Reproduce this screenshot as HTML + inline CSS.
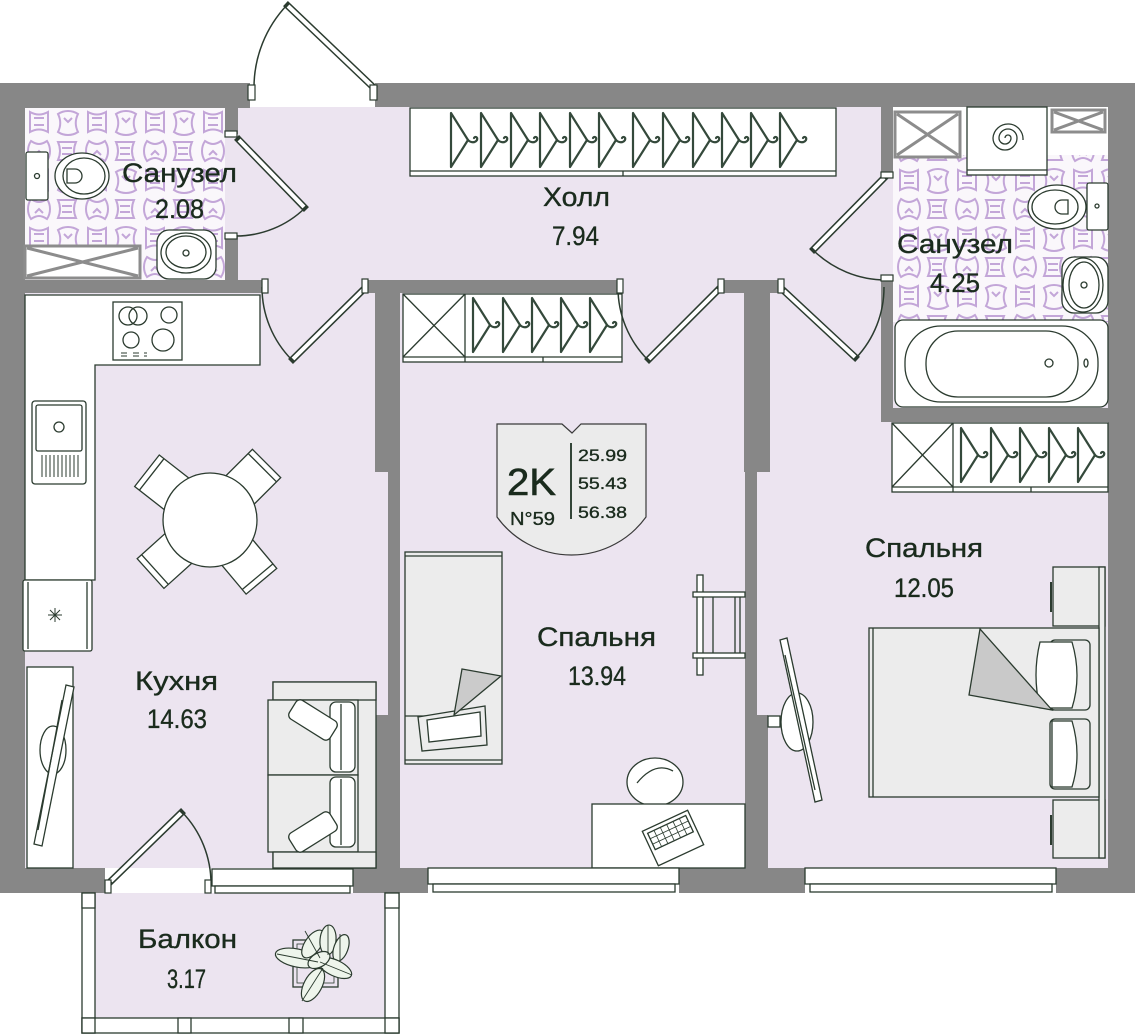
<!DOCTYPE html>
<html><head><meta charset="utf-8"><style>
html,body{margin:0;padding:0;background:#fff;}
svg{display:block;}
text{font-family:"Liberation Sans",sans-serif;fill:#1a2b1d;stroke:#1a2b1d;stroke-width:0.35;}
</style></head><body>
<svg width="1135" height="1034" viewBox="0 0 1135 1034" xmlns="http://www.w3.org/2000/svg">
<defs>
<pattern id="tile" width="58" height="58" patternUnits="userSpaceOnUse" x="25" y="108">
<rect width="58" height="58" fill="#faf7fb"/>
<g fill="none" stroke="#c3a6d8" stroke-width="2">
<path d="M5,4 q9,5 18,0 v20 q-9,-5 -18,0 z M9,10 h10 M9,17 h10"/>
<path transform="translate(29,0)" d="M4,6 c6,-4 14,-4 20,0 c-3,6 -3,12 0,18 c-6,4 -14,4 -20,0 c3,-6 3,-12 0,-18 z M10,10 l4,4 l4,-4"/>
<path transform="translate(0,29)" d="M6,4 c6,4 10,4 16,0 c4,6 4,14 0,20 c-6,-4 -10,-4 -16,0 c-4,-6 -4,-14 0,-20 z M10,18 l4,-4 l4,4"/>
<path transform="translate(29,29)" d="M4,5 h18 q-4,9 0,18 h-18 q4,-9 0,-18 z M8,11 h10 M8,17 h10"/>
</g>
</pattern>
<g id="hg" fill="none" stroke="#34493b" stroke-width="2.2" stroke-linejoin="round" stroke-linecap="round">
<path d="M1,0 V54 L18,27 Z"/>
<path d="M18,27 c3,3 7,3 9,0 c1,-3 -2,-4 -3,-2"/>
</g>
</defs>

<rect x="0" y="0" width="1135" height="1034" fill="#fff"/>

<!-- floors -->
<rect x="25" y="107" width="1083" height="761" fill="#ece4f0"/>
<rect x="95" y="893" width="290" height="125" fill="#ece4f0"/>
<rect x="25" y="108" width="200" height="172" fill="url(#tile)"/>
<rect x="893" y="107" width="215" height="215" fill="url(#tile)"/>
<rect x="893" y="107" width="215" height="48" fill="#fff"/>

<!-- walls -->
<g fill="#878787">
<rect x="0" y="83" width="250" height="25"/>
<rect x="375" y="83" width="760" height="24"/>
<rect x="0" y="83" width="25" height="810"/>
<rect x="1108" y="83" width="27" height="810"/>
<rect x="0" y="868" width="105" height="25"/>
<rect x="353" y="868" width="75" height="25"/>
<rect x="679" y="868" width="126" height="25"/>
<rect x="1056" y="868" width="79" height="25"/>
<rect x="225" y="107" width="13" height="27"/>
<rect x="225" y="235" width="13" height="45"/>
<rect x="0" y="280" width="263" height="13"/>
<rect x="365" y="280" width="257" height="13"/>
<rect x="718" y="280" width="65" height="13"/>
<rect x="375" y="280" width="25" height="192"/>
<rect x="388" y="472" width="12" height="243"/>
<rect x="375" y="715" width="25" height="153"/>
<rect x="744" y="280" width="26" height="192"/>
<rect x="745" y="472" width="12" height="243"/>
<rect x="745" y="715" width="23" height="153"/>
<rect x="881" y="107" width="12" height="68"/>
<rect x="881" y="277" width="12" height="145"/>
<rect x="881" y="408" width="227" height="14"/>
</g>

<g stroke="#2b3b2f" stroke-width="1.3">
<!-- left bathroom -->
<rect x="25" y="246" width="115" height="32" fill="#fff" stroke="#8c8c8c" stroke-width="3"/>
<path d="M27,248 L138,276 M138,248 L27,276" stroke="#8c8c8c" stroke-width="3"/>
<rect x="26" y="152" width="22" height="48" rx="2" fill="#fff"/>
<circle cx="37" cy="176" r="2.5" fill="#fff"/>
<ellipse cx="82" cy="176" rx="27" ry="23" fill="#fff"/>
<ellipse cx="84" cy="176" rx="21" ry="18" fill="#fff"/>
<path d="M67,169 h8 a7,7 0 0 1 0,14 h-8 z" fill="#fff"/>
<rect x="157" y="230" width="59" height="49" rx="12" fill="#fff"/>
<ellipse cx="186" cy="253" rx="25" ry="20" fill="#fff"/>
<ellipse cx="186" cy="252" rx="20" ry="16" fill="#fff"/>
<circle cx="186" cy="253" r="3" fill="#fff"/>

<!-- right bathroom -->
<rect x="895" y="112" width="65" height="45" fill="#fff" stroke="#8c8c8c" stroke-width="3"/>
<path d="M897,114 L958,155 M958,114 L897,155" stroke="#8c8c8c" stroke-width="3"/>
<rect x="1052" y="110" width="53" height="22" fill="#fff" stroke="#8c8c8c" stroke-width="3"/>
<path d="M1054,112 L1103,130 M1103,112 L1054,130" stroke="#8c8c8c" stroke-width="3"/>
<rect x="967" y="107" width="80" height="68" fill="#fff"/>
<line x1="967" y1="170" x2="1047" y2="170"/>
<path d="M1005,138 a3,3 0 0 1 6,0 a6,6 0 0 1 -12,0 a9,9 0 0 1 18,0 a12,12 0 0 1 -24,0 a15,15 0 0 1 30,2" fill="none"/>
<rect x="1087" y="183" width="21" height="47" rx="2" fill="#fff"/>
<circle cx="1097" cy="206" r="2" fill="#fff"/>
<ellipse cx="1057" cy="207" rx="29" ry="22" fill="#fff"/>
<ellipse cx="1055" cy="207" rx="23" ry="17" fill="#fff"/>
<path d="M1068,200 h-6 a7,7 0 0 0 0,14 h6 z" fill="#fff"/>
<rect x="1062" y="257" width="46" height="56" rx="12" fill="#fff"/>
<ellipse cx="1083" cy="285" rx="20" ry="27" fill="#fff"/>
<ellipse cx="1084" cy="285" rx="15" ry="23" fill="#fff"/>
<circle cx="1084" cy="285" r="3" fill="#fff"/>
<rect x="895" y="320" width="213" height="87" rx="8" fill="#fff"/>
<rect x="905" y="326" width="193" height="76" rx="36" fill="#fff"/>
<rect x="926" y="331" width="152" height="66" rx="32" fill="#fff"/>
<circle cx="1049" cy="363" r="4" fill="#fff"/>
<ellipse cx="1086" cy="363" rx="2" ry="4" fill="#fff"/>

<!-- hall wardrobe -->
<rect x="410" y="108" width="426" height="68" fill="#fff"/>
<line x1="410" y1="171" x2="836" y2="171"/>
<line x1="623" y1="171" x2="623" y2="176"/>
<!-- mid wardrobe -->
<rect x="403" y="294" width="219" height="68" fill="#fff"/>
<line x1="403" y1="357" x2="622" y2="357"/>
<line x1="465" y1="294" x2="465" y2="362"/>
<path d="M403,294 L465,357 M465,294 L403,357"/>
<line x1="543" y1="357" x2="543" y2="362"/>
<!-- right wardrobe -->
<rect x="892" y="423" width="216" height="69" fill="#fff"/>
<line x1="892" y1="487" x2="1108" y2="487"/>
<line x1="953" y1="423" x2="953" y2="492"/>
<path d="M892,423 L953,487 M953,423 L892,487"/>
<line x1="1031" y1="487" x2="1031" y2="492"/>

<!-- kitchen -->
<path d="M25,295 H260 V365 H95 V580 H25 Z" fill="#fff"/>
<rect x="113" y="302" width="69" height="58" fill="#fff"/>
<circle cx="128" cy="316" r="9" fill="none"/>
<circle cx="138" cy="316" r="9" fill="none"/>
<circle cx="169" cy="315" r="8" fill="none"/>
<circle cx="131" cy="340" r="8" fill="none"/>
<circle cx="163" cy="340" r="11" fill="none"/>
<path d="M121,353 h6 M121,356 h6 M133,353 h6 M133,356 h6 M144,353 h3 M144,356 h3" stroke-width="1"/>
<rect x="32" y="401" width="54" height="83" rx="3" fill="#fff"/>
<rect x="36" y="405" width="46" height="46" rx="2" fill="#fff"/>
<circle cx="59" cy="427" r="5" fill="#fff"/>
<path d="M42,455 v22 M46,455 v22 M50,455 v22 M54,455 v22 M58,455 v22 M62,455 v22 M66,455 v22 M70,455 v22 M74,455 v22 M78,455 v22" stroke-width="1"/>
<rect x="23" y="580" width="69" height="71" rx="2" fill="#fff"/>
<line x1="28" y1="582" x2="28" y2="649"/>
<line x1="87" y1="582" x2="87" y2="649"/>
<path d="M48,615 h14 M55,608 v14 M50,610 l10,10 M60,610 l-10,10" stroke-width="1"/>
<rect x="27" y="667" width="46" height="201" fill="#fff"/>
<ellipse cx="53" cy="750" rx="13" ry="24" fill="#fff"/>
<polygon points="66,685 74,687 42,846 34,844" fill="#fff"/>
<line x1="62" y1="700" x2="38" y2="830"/>
<!-- table and chairs -->
<g transform="translate(210,520) rotate(-142)"><rect x="28" y="-20" width="52" height="40" fill="#fff"/><line x1="74" y1="-20" x2="74" y2="20"/></g>
<g transform="translate(210,520) rotate(-45)"><rect x="28" y="-20" width="52" height="40" fill="#fff"/><line x1="74" y1="-20" x2="74" y2="20"/></g>
<g transform="translate(210,520) rotate(138)"><rect x="28" y="-20" width="52" height="40" fill="#fff"/><line x1="74" y1="-20" x2="74" y2="20"/></g>
<g transform="translate(210,520) rotate(50)"><rect x="28" y="-20" width="52" height="40" fill="#fff"/><line x1="74" y1="-20" x2="74" y2="20"/></g>
<circle cx="210" cy="520" r="47" fill="#fff"/>
<!-- sofa -->
<rect x="273" y="682" width="103" height="186" fill="#ececec"/>
<rect x="273" y="682" width="103" height="18" fill="#ececec"/>
<rect x="268" y="700" width="90" height="75" fill="#ececec"/>
<rect x="268" y="775" width="90" height="77" fill="#ececec"/>
<rect x="273" y="852" width="103" height="16" fill="#ececec"/>
<rect x="330" y="702" width="25" height="70" rx="6" fill="#fff"/>
<line x1="341" y1="704" x2="341" y2="770"/>
<rect x="330" y="777" width="25" height="70" rx="6" fill="#fff"/>
<line x1="341" y1="779" x2="341" y2="845"/>
<g transform="translate(313,720) rotate(32)"><rect x="-24" y="-11" width="48" height="22" rx="5" fill="#fff"/></g>
<g transform="translate(313,832) rotate(-32)"><rect x="-24" y="-11" width="48" height="22" rx="5" fill="#fff"/></g>

<!-- middle bedroom -->
<rect x="405" y="552" width="97" height="212" fill="#ececec"/>
<line x1="405" y1="556" x2="502" y2="556"/>
<line x1="405" y1="760" x2="502" y2="760"/>
<line x1="405" y1="716" x2="454" y2="716"/>
<polygon points="418,717 485,706 487,745 422,751" fill="#ececec"/>
<polygon points="427,720 480,712 481,736 429,742" fill="#fff"/>
<polygon points="462,669 501,676 454,715" fill="#cbcbcb"/>
<ellipse cx="655" cy="782" rx="28" ry="24" fill="#fff"/>
<path d="M637,783 q18,-22 36,-12" fill="none"/>
<rect x="592" y="804" width="153" height="64" fill="#fff"/>
<g transform="translate(673,838) rotate(-25)"><rect x="-25" y="-19" width="50" height="38" fill="#fff"/><rect x="-21" y="-15" width="42" height="18" fill="#fff"/>
<path d="M-21,-9 h42 M-21,-3 h42 M-14,-15 v18 M-7,-15 v18 M0,-15 v18 M7,-15 v18 M14,-15 v18" stroke-width="0.8"/></g>
<rect x="697" y="575" width="6" height="100" fill="#fff"/>
<rect x="693" y="592" width="52" height="5" fill="#fff"/>
<rect x="693" y="653" width="52" height="5" fill="#fff"/>
<line x1="713" y1="597" x2="713" y2="653"/>
<line x1="735" y1="597" x2="735" y2="653"/>
<line x1="740" y1="597" x2="740" y2="653"/>

<!-- right bedroom -->
<rect x="1053" y="567" width="52" height="59" fill="#ececec"/>
<rect x="1053" y="800" width="52" height="58" fill="#ececec"/>
<line x1="1051" y1="582" x2="1051" y2="612" stroke-width="2"/>
<line x1="1051" y1="815" x2="1051" y2="845" stroke-width="2"/>
<rect x="1099" y="567" width="6" height="291" fill="#ececec"/>
<rect x="869" y="628" width="230" height="169" fill="#ececec"/>
<line x1="873" y1="628" x2="873" y2="797"/>
<rect x="1050" y="640" width="40" height="70" rx="5" fill="#ececec"/>
<rect x="1050" y="719" width="40" height="70" rx="5" fill="#ececec"/>
<path d="M1040,642 h32 q10,34 0,66 h-32 q-8,-33 0,-66 z" fill="#fff"/>
<path d="M1052,721 h20 q10,34 0,66 h-20 z" fill="#fff"/>
<polygon points="980,629 969,695 1052,710" fill="#c9c9c9"/>
<ellipse cx="797" cy="722" rx="16" ry="29" fill="#fff"/>
<rect x="768" y="716" width="12" height="11" fill="#fff"/>
<polygon points="780,640 787,638 822,800 815,802" fill="#fff"/>
<line x1="785" y1="655" x2="815" y2="790"/>

<!-- windows -->
<rect x="212" y="869" width="141" height="17" fill="#fff"/>
<rect x="215" y="886" width="135" height="7" fill="#fff"/>
<rect x="428" y="868" width="251" height="16" fill="#fff"/>
<rect x="433" y="884" width="242" height="8" fill="#fff"/>
<rect x="805" y="868" width="251" height="16" fill="#fff"/>
<rect x="810" y="884" width="242" height="8" fill="#fff"/>

<!-- balcony rails -->
<rect x="82" y="893" width="13" height="140" fill="#fff"/>
<rect x="385" y="893" width="14" height="140" fill="#fff"/>
<rect x="82" y="1018" width="317" height="15" fill="#fff"/>
<rect x="82" y="893" width="13" height="15" fill="#fff"/>
<rect x="385" y="893" width="14" height="15" fill="#fff"/>
<rect x="82" y="1018" width="13" height="15" fill="#fff"/>
<rect x="178" y="1018" width="13" height="15" fill="#fff"/>
<rect x="289" y="1018" width="14" height="15" fill="#fff"/>
<rect x="385" y="1018" width="14" height="15" fill="#fff"/>

<!-- plant -->
<rect x="293" y="940" width="45" height="47" fill="none"/>
<rect x="297" y="944" width="37" height="39" fill="none" stroke-width="0.8"/>
<g fill="#eef5ec" stroke="#2b3b2f" stroke-width="1.2">
<ellipse cx="297" cy="958" rx="22" ry="9" transform="rotate(12 297 958)"/>
<ellipse cx="313" cy="944" rx="16" ry="8" transform="rotate(-55 313 944)"/>
<ellipse cx="328" cy="940" rx="15" ry="8" transform="rotate(-85 328 940)"/>
<ellipse cx="341" cy="948" rx="14" ry="7" transform="rotate(-70 341 948)"/>
<ellipse cx="335" cy="968" rx="18" ry="8" transform="rotate(25 335 968)"/>
<ellipse cx="313" cy="985" rx="18" ry="9" transform="rotate(-62 313 985)"/>
<ellipse cx="319" cy="960" rx="12" ry="7" transform="rotate(-30 319 960)"/>
</g>
<path d="M277,954 L318,962 M305,931 L320,958 M328,925 L328,955 M340,934 L340,962 M352,975 L320,962 M302,1001 L323,968" fill="none" stroke-width="0.9"/>
</g>

<!-- hangers -->
<use href="#hg" x="450" y="113"/><use href="#hg" x="480" y="113"/><use href="#hg" x="510" y="113"/>
<use href="#hg" x="539" y="113"/><use href="#hg" x="569" y="113"/><use href="#hg" x="598" y="113"/>
<use href="#hg" x="632" y="113"/><use href="#hg" x="662" y="113"/><use href="#hg" x="692" y="113"/>
<use href="#hg" x="721" y="113"/><use href="#hg" x="750" y="113"/><use href="#hg" x="779" y="113"/>
<use href="#hg" x="472" y="298"/><use href="#hg" x="502" y="298"/><use href="#hg" x="531" y="298"/>
<use href="#hg" x="560" y="298"/><use href="#hg" x="589" y="298"/>
<use href="#hg" x="960" y="428"/><use href="#hg" x="990" y="428"/><use href="#hg" x="1019" y="428"/>
<use href="#hg" x="1048" y="428"/><use href="#hg" x="1077" y="428"/>

<!-- doors -->
<g fill="none" stroke="#2b3b2f" stroke-width="1.5">
<path d="M305,208 A99,99 0 0 1 236,236"/>
<path d="M287,5 A120,120 0 0 0 254,88"/>
<path d="M292,360 A103,103 0 0 1 262,287"/>
<path d="M648,360 A102,102 0 0 1 618,287"/>
<path d="M856,358 A103,103 0 0 0 884,287"/>
<path d="M813,250 A104.7,104.7 0 0 0 886,280"/>
<path d="M182,812 A103,103 0 0 1 211,884"/>
</g>
<g stroke="#2b3b2f" stroke-width="7" stroke-linecap="square">
<line x1="239" y1="140" x2="304" y2="207"/>
<line x1="373" y1="87" x2="288" y2="6"/>
<line x1="363" y1="290" x2="293" y2="359"/>
<line x1="718" y1="290" x2="649" y2="359"/>
<line x1="784" y1="291" x2="855" y2="357"/>
<line x1="884" y1="178" x2="814" y2="249"/>
<line x1="111" y1="881" x2="181" y2="813"/>
</g>
<g stroke="#fff" stroke-width="4">
<line x1="239" y1="140" x2="304" y2="207"/>
<line x1="373" y1="87" x2="288" y2="6"/>
<line x1="363" y1="290" x2="293" y2="359"/>
<line x1="718" y1="290" x2="649" y2="359"/>
<line x1="784" y1="291" x2="855" y2="357"/>
<line x1="884" y1="178" x2="814" y2="249"/>
<line x1="111" y1="881" x2="181" y2="813"/>
</g>
<g fill="#fff" stroke="#2b3b2f" stroke-width="1.2">
<rect x="248" y="85" width="7" height="15"/><rect x="370" y="85" width="7" height="15"/>
<rect x="225" y="131" width="12" height="6"/><rect x="225" y="233" width="12" height="6"/>
<rect x="262" y="279" width="6" height="14"/><rect x="362" y="279" width="6" height="14"/>
<rect x="617" y="279" width="6" height="14"/><rect x="718" y="279" width="6" height="14"/>
<rect x="778" y="279" width="6" height="14"/>
<rect x="881" y="172" width="12" height="6"/><rect x="881" y="275" width="12" height="6"/>
<rect x="105" y="880" width="6" height="13"/><rect x="205" y="880" width="6" height="13"/>
</g>

<!-- badge -->
<path d="M497,424 L562,424 L572,433 L581,424 L646,424 L646,517 A92,92 0 0 1 497,517 Z" fill="#ebebeb" stroke="#3a3a3a" stroke-width="1.2"/>
<line x1="571" y1="443" x2="571" y2="519" stroke="#1f3325" stroke-width="1.8"/>
<text x="507" y="495" font-size="38" textLength="49" lengthAdjust="spacingAndGlyphs" style="stroke-width:0.6">2K</text>
<text x="510" y="525" font-size="18" textLength="45" lengthAdjust="spacingAndGlyphs">N°59</text>
<text x="578" y="461" font-size="17" textLength="49" lengthAdjust="spacingAndGlyphs">25.99</text>
<text x="578" y="489" font-size="17" textLength="49" lengthAdjust="spacingAndGlyphs">55.43</text>
<text x="578" y="518" font-size="17" textLength="49" lengthAdjust="spacingAndGlyphs">56.38</text>

<!-- labels -->
<g font-size="26.5">
<text x="122" y="182" textLength="115" lengthAdjust="spacingAndGlyphs">Санузел</text>
<text x="155" y="218" textLength="49" lengthAdjust="spacingAndGlyphs">2.08</text>
<text x="543" y="206" textLength="67" lengthAdjust="spacingAndGlyphs">Холл</text>
<text x="552" y="245" textLength="47" lengthAdjust="spacingAndGlyphs">7.94</text>
<text x="897" y="253" textLength="116" lengthAdjust="spacingAndGlyphs">Санузел</text>
<text x="930" y="292" textLength="50" lengthAdjust="spacingAndGlyphs">4.25</text>
<text x="135" y="690" textLength="83" lengthAdjust="spacingAndGlyphs">Кухня</text>
<text x="147" y="728" textLength="60" lengthAdjust="spacingAndGlyphs">14.63</text>
<text x="537" y="646" textLength="119" lengthAdjust="spacingAndGlyphs">Спальня</text>
<text x="568" y="685" textLength="58" lengthAdjust="spacingAndGlyphs">13.94</text>
<text x="865" y="557" textLength="118" lengthAdjust="spacingAndGlyphs">Спальня</text>
<text x="894" y="597" textLength="60" lengthAdjust="spacingAndGlyphs">12.05</text>
<text x="138" y="948" textLength="99" lengthAdjust="spacingAndGlyphs">Балкон</text>
<text x="167" y="988" textLength="39" lengthAdjust="spacingAndGlyphs">3.17</text>
</g>
</svg>
</body></html>
